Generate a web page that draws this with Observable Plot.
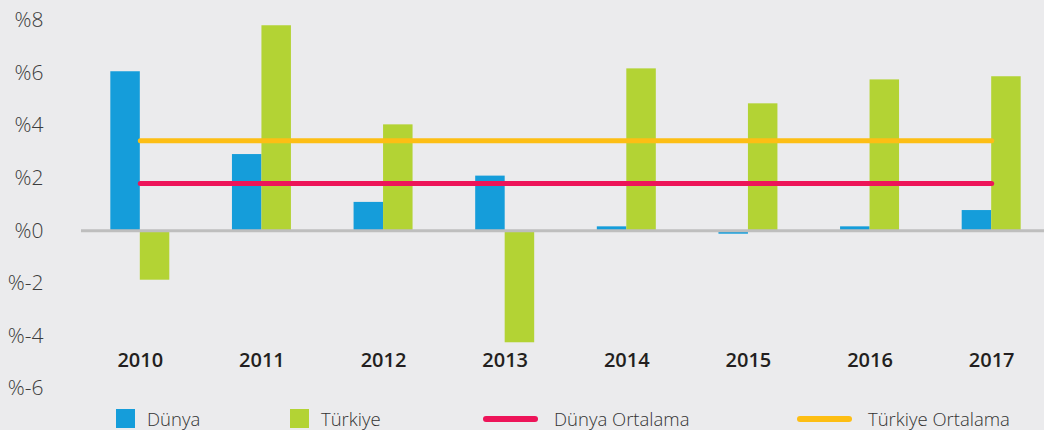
<!DOCTYPE html>
<html>
<head>
<meta charset="utf-8">
<script src="https://cdn.jsdelivr.net/npm/d3@7"></script>
<script src="https://cdn.jsdelivr.net/npm/@observablehq/plot@0.6"></script>
<style>
  html, body { margin: 0; padding: 0; background: #ebebed; }
  body { width: 1044px; height: 430px; overflow: hidden; font-family: "Open Sans", sans-serif; }
  #chart svg { display: block; background: #ebebed; }
  #legend { position: relative; height: 30px; font-family: "Open Sans", sans-serif; font-weight: 300; font-size: 18.5px; color: #333; }
  .item { position: absolute; top: 9px; display: flex; align-items: center; height: 19px; }
  .sw { width: 19px; height: 19px; margin-right: 12px; }
  .ln { width: 55px; height: 6px; border-radius: 3px; margin-right: 16px; }
</style>
</head>
<body>
<div id="chart"></div>
<div id="legend"></div>
<script>
const years = ["2010", "2011", "2012", "2013", "2014", "2015", "2016", "2017"];
const dunya = [6.05, 2.9, 1.08, 2.08, 0.15, -0.13, 0.15, 0.77];
const turkiye = [-1.88, 7.8, 4.03, -4.26, 6.16, 4.83, 5.74, 5.86];
const dunyaOrtalama = [1.8, 1.8, 1.8, 1.8, 1.8, 1.8, 1.8, 1.8];
const turkiyeOrtalama = [3.43, 3.43, 3.43, 3.43, 3.43, 3.43, 3.43, 3.43];
const yTicks = [-6, -4, -2, 0, 2, 4, 6, 8];
const yTickLabels = ["%-6", "%-4", "%-2", "%0", "%2", "%4", "%6", "%8"];
const seriesNames = ["Dünya", "Türkiye", "Dünya Ortalama", "Türkiye Ortalama"];
const colors = { "Dünya": "#159dda", "Türkiye": "#b3d334", "Dünya Ortalama": "#ed1459", "Türkiye Ortalama": "#fdbe14" };

const dunyaData = years.map((y, i) => ({ year: y, value: dunya[i] }));
const turkiyeData = years.map((y, i) => ({ year: y, value: turkiye[i] }));
const dOrtData = years.map((y, i) => ({ year: y, value: dunyaOrtalama[i] }));
const tOrtData = years.map((y, i) => ({ year: y, value: turkiyeOrtalama[i] }));

const width = 1044, height = 400;
const marginLeft = 79, marginRight = -8;
const paddingInner = 0.515, paddingOuter = 0.2575;
const step = (width - marginLeft - marginRight) / (years.length - paddingInner + 2 * paddingOuter);
const half = step * (1 - paddingInner) / 2;

const chart = Plot.plot({
  width, height,
  marginLeft, marginRight, marginTop: 20, marginBottom: 12,
  style: { background: "#ebebed", fontFamily: "Open Sans, sans-serif" },
  x: { type: "band", domain: years, paddingInner, paddingOuter, round: false, axis: null },
  y: { domain: [-6, 8], axis: null },
  marks: [
    Plot.barY(dunyaData, { x: "year", y: "value", fill: colors["Dünya"], insetRight: half }),
    Plot.barY(turkiyeData, { x: "year", y: "value", fill: colors["Türkiye"], insetLeft: half }),
    Plot.ruleY([0], { stroke: "#bebebe", strokeWidth: 3, insetLeft: 2 }),
    Plot.lineY(tOrtData, { x: "year", y: "value", stroke: colors["Türkiye Ortalama"], strokeWidth: 5, strokeLinecap: "round" }),
    Plot.lineY(dOrtData, { x: "year", y: "value", stroke: colors["Dünya Ortalama"], strokeWidth: 5, strokeLinecap: "round" }),
    Plot.axisY({ ticks: yTicks, tickFormat: (d) => yTickLabels[yTicks.indexOf(d)], tickSize: 0, tickPadding: 36, fontSize: 21, fontWeight: 300, fill: "#3c3c3c", label: null }),
    Plot.axisX({ anchor: "bottom", tickSize: 0, tickPadding: 0, dy: -36, fontSize: 20, fontWeight: 600, fill: "#231f20", label: null })
  ]
});
document.getElementById("chart").appendChild(chart);

const legend = document.getElementById("legend");
const lefts = [116, 290, 483, 797];
seriesNames.forEach((name, i) => {
  const item = document.createElement("div");
  item.className = "item";
  item.style.left = lefts[i] + "px";
  const mark = document.createElement("div");
  mark.className = i < 2 ? "sw" : "ln";
  mark.style.background = colors[name];
  const label = document.createElement("span");
  label.textContent = name;
  item.appendChild(mark);
  item.appendChild(label);
  legend.appendChild(item);
});
</script>
</body>
</html>
